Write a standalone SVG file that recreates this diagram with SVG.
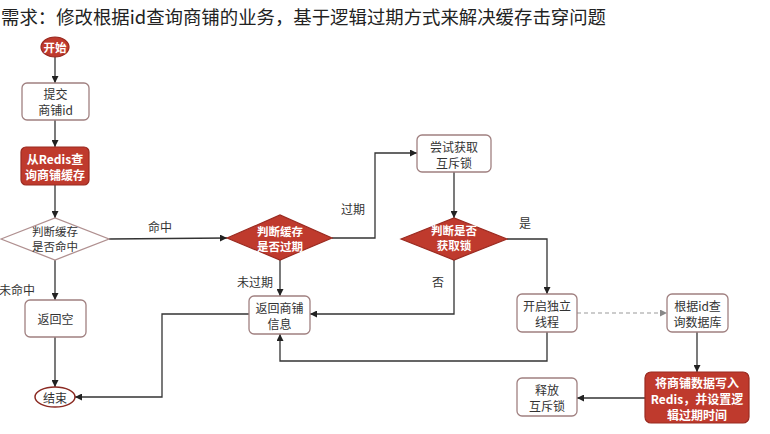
<svg xmlns="http://www.w3.org/2000/svg" width="770" height="434" viewBox="0 0 770 434">
<defs>
<marker id="arr" viewBox="0 0 10 10" refX="10" refY="5" markerWidth="7" markerHeight="7" markerUnits="userSpaceOnUse" orient="auto"><path d="M0,0 L10,5 L0,10 z" fill="#222"/></marker>
<marker id="arrg" viewBox="0 0 10 10" refX="10" refY="5" markerWidth="7" markerHeight="7" markerUnits="userSpaceOnUse" orient="auto"><path d="M0,0 L10,5 L0,10 z" fill="#888"/></marker>
</defs>
<style>
text{font-family:"Noto Sans CJK SC","Noto Sans",sans-serif;text-anchor:middle;dominant-baseline:central}
.t{font-size:12px;fill:#333}
.w{font-size:12px;fill:#fff;font-weight:bold}
.dw{font-size:11.5px;fill:#fff;font-weight:bold}
.dt{font-size:11.5px;fill:#333}
.lb{font-size:12px;fill:#333}
.box{fill:#fff;stroke:#a08080;stroke-width:1.3}
.red{fill:#bf3a2d;stroke:#9a2a20;stroke-width:1.2}
.c{fill:none;stroke:#333;stroke-width:1.3;marker-end:url(#arr)}
.d{fill:none;stroke:#999;stroke-width:1.2;stroke-dasharray:4 3;marker-end:url(#arrg)}
</style>
<rect width="770" height="434" fill="#fff"/>
<text x="1" y="16" style="font-size:18.4px;fill:#222;text-anchor:start">需求：修改根据id查询商铺的业务，基于逻辑过期方式来解决缓存击穿问题</text>

<g id="connectors">
<path class="c" d="M55,57 L55,83"/>
<path class="c" d="M55,120 L55,147"/>
<path class="c" d="M55,185 L55,218"/>
<path class="c" d="M55,260 L55,300"/>
<path class="c" d="M55,337 L55,387"/>
<path class="c" d="M109,239 L227,238"/>
<path class="c" d="M332,238 L375,238 L375,153 L417,153"/>
<path class="c" d="M280,260 L280,296"/>
<path class="c" d="M454,172 L454,218"/>
<path class="c" d="M507,239 L547,239 L547,294"/>
<path class="c" d="M454,260 L454,314 L310,314"/>
<path class="c" d="M547,332 L547,361 L280,361 L280,334"/>
<path class="c" d="M249,314 L162,314 L162,397 L75,397"/>
<path class="d" d="M577,313 L667,313"/>
<path class="c" d="M697,332 L697,372"/>
<path class="c" d="M645,398 L577,398"/>
<text class="lb" x="160" y="226">命中</text>
<text class="lb" x="17" y="289">未命中</text>
<text class="lb" x="353" y="208">过期</text>
<text class="lb" x="255" y="281">未过期</text>
<text class="lb" x="525" y="222">是</text>
<text class="lb" x="438" y="281">否</text>
</g>

<g id="start">
<ellipse cx="55" cy="47" rx="14" ry="10" fill="#bf3a2d" stroke="#9a2a20" stroke-width="1.2"/>
<text class="w" x="55" y="47" style="font-size:11.5px">开始</text>
</g>
<g id="submit">
<rect class="box" x="22" y="83" width="67" height="37" rx="5"/>
<text class="t" x="55.5" y="93.5">提交</text>
<text class="t" x="55.5" y="109.5">商铺id</text>
</g>
<g id="queryRedis">
<rect class="red" x="21" y="147" width="68" height="38" rx="5"/>
<text class="w" x="55" y="158">从Redis查</text>
<text class="w" x="55" y="174">询商铺缓存</text>
</g>
<g id="hitCheck">
<polygon points="1,239 55,218 109,239 55,260" fill="#fff" stroke="#b09090" stroke-width="1.3"/>
<text class="dt" x="55" y="231">判断缓存</text>
<text class="dt" x="55" y="246">是否命中</text>
</g>
<g id="returnNull">
<rect class="box" x="25" y="300" width="61" height="37" rx="5"/>
<text class="t" x="55.5" y="318.5">返回空</text>
</g>
<g id="end">
<ellipse cx="55" cy="397" rx="20" ry="10" fill="#fff" stroke="#8b2a22" stroke-width="1.5"/>
<text class="t" x="55" y="397">结束</text>
</g>
<g id="expireCheck">
<polygon points="227,238 280,215 332,238 280,260" class="red"/>
<text class="dw" x="280" y="231">判断缓存</text>
<text class="dw" x="280" y="246">是否过期</text>
</g>
<g id="returnShop">
<rect class="box" x="249" y="296" width="61" height="38" rx="5"/>
<text class="t" x="279.5" y="307">返回商铺</text>
<text class="t" x="279.5" y="323">信息</text>
</g>
<g id="tryLock">
<rect class="box" x="417" y="135" width="74" height="37" rx="5"/>
<text class="t" x="454" y="146">尝试获取</text>
<text class="t" x="454" y="162">互斥锁</text>
</g>
<g id="lockCheck">
<polygon points="401,239 454,218 507,239 454,260" class="red"/>
<text class="dw" x="454" y="230">判断是否</text>
<text class="dw" x="454" y="245">获取锁</text>
</g>
<g id="newThread">
<rect class="box" x="517" y="294" width="60" height="38" rx="5"/>
<text class="t" x="547" y="305">开启独立</text>
<text class="t" x="547" y="321">线程</text>
</g>
<g id="queryDb">
<rect class="box" x="667" y="294" width="61" height="38" rx="5"/>
<text class="t" x="697.5" y="305">根据id查</text>
<text class="t" x="697.5" y="321">询数据库</text>
</g>
<g id="writeRedis">
<rect class="red" x="645" y="372" width="104" height="51" rx="6"/>
<text class="w" x="697" y="382">将商铺数据写入</text>
<text class="w" x="697" y="398">Redis，并设置逻</text>
<text class="w" x="697" y="414">辑过期时间</text>
</g>
<g id="unlock">
<rect class="box" x="517" y="378" width="60" height="38" rx="5"/>
<text class="t" x="547" y="389">释放</text>
<text class="t" x="547" y="405">互斥锁</text>
</g>
</svg>
